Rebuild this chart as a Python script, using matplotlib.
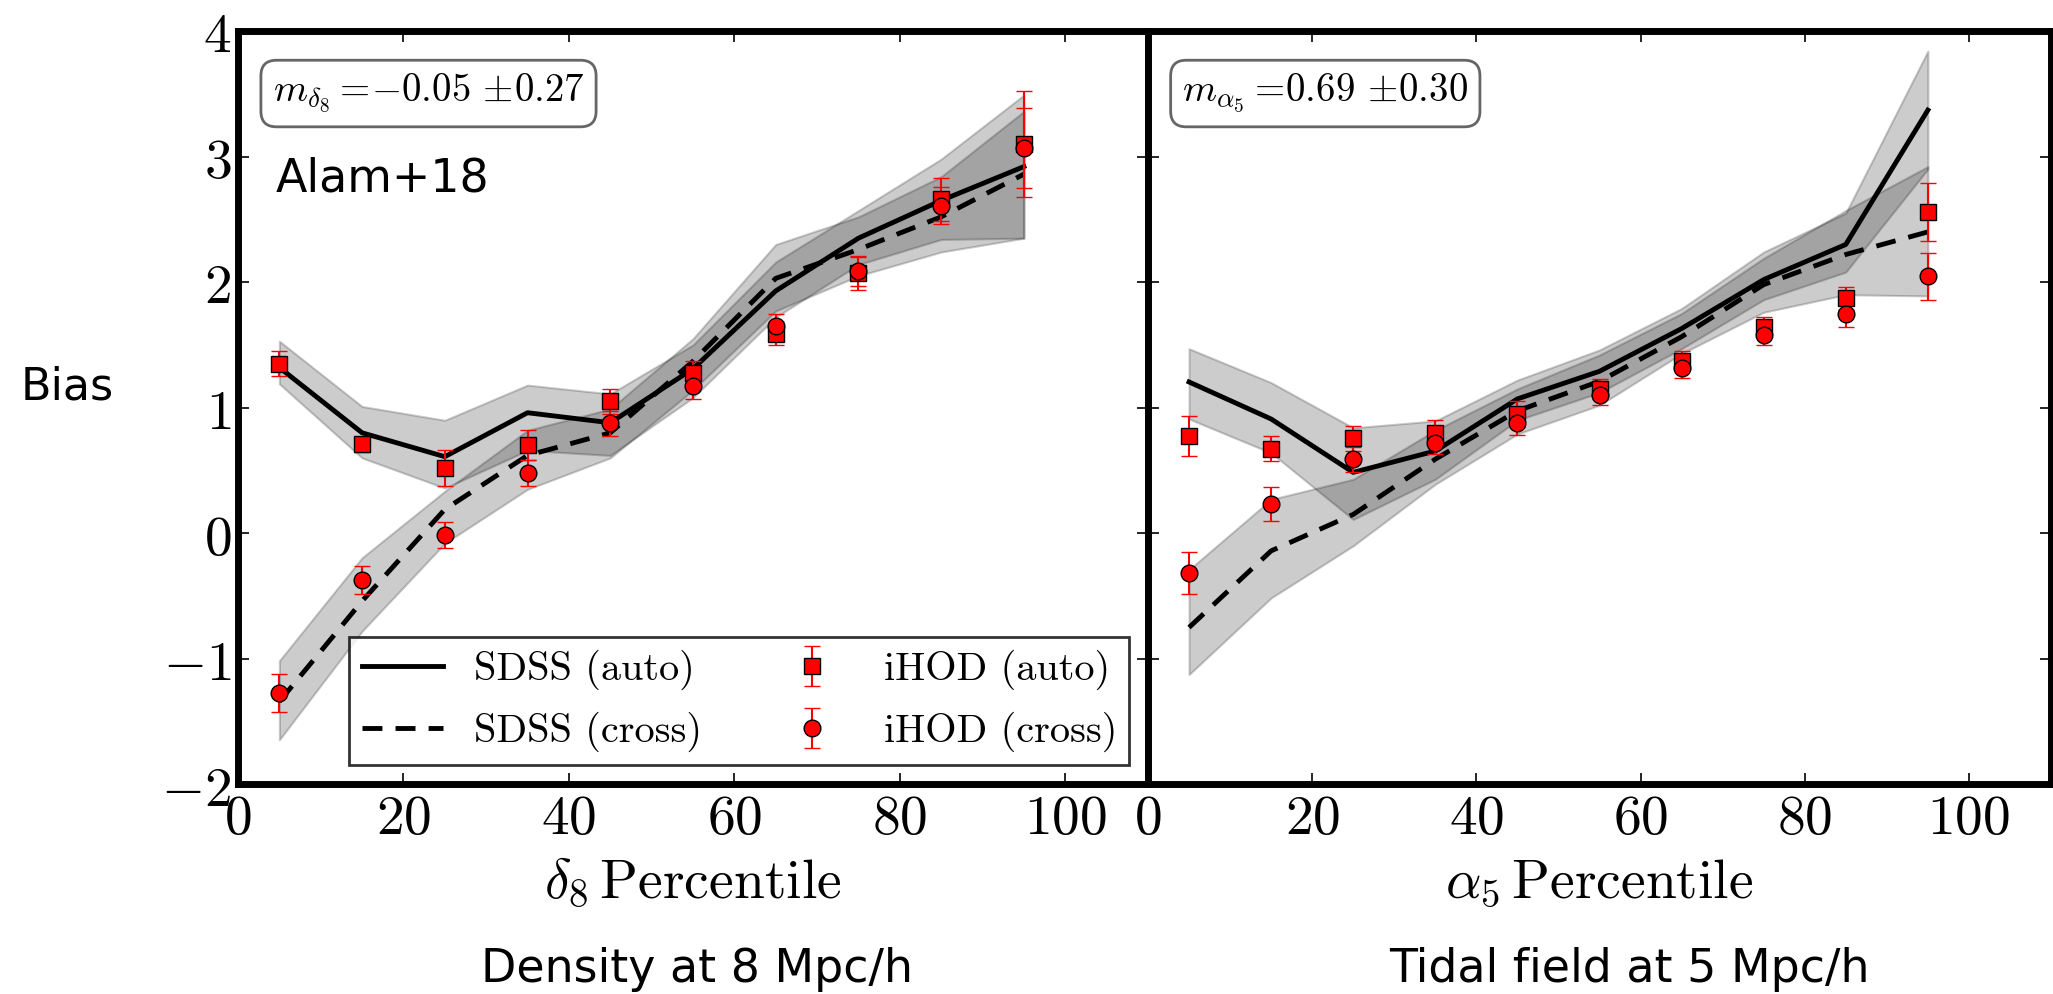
import matplotlib
matplotlib.use("Agg")
import matplotlib.pyplot as plt

plt.rcParams["mathtext.fontset"] = "cm"
plt.rcParams["font.family"] = "serif"
plt.rcParams["font.serif"] = ["DejaVu Serif"]

# percentile bins
pct = [5, 15, 25, 35, 45, 55, 65, 75, 85, 95]

# ---- delta_8 panel ----
sdss_auto_d8 = [1.32, 0.80, 0.61, 0.96, 0.88, 1.31, 1.93, 2.35, 2.65, 2.92]
sdss_auto_d8_lo = [1.19, 0.60, 0.36, 0.66, 0.62, 1.08, 1.72, 2.14, 2.34, 2.35]
sdss_auto_d8_hi = [1.53, 1.01, 0.90, 1.18, 1.11, 1.50, 2.16, 2.57, 2.98, 3.49]
sdss_cross_d8 = [-1.34, -0.54, 0.19, 0.62, 0.80, 1.37, 2.03, 2.26, 2.52, 2.86]
sdss_cross_d8_lo = [-1.645, -0.78, -0.08, 0.35, 0.60, 1.14, 1.77, 2.05, 2.24, 2.35]
sdss_cross_d8_hi = [-1.015, -0.195, 0.335, 0.82, 0.99, 1.55, 2.30, 2.52, 2.84, 3.36]
ihod_auto_d8 = [1.35, 0.71, 0.52, 0.70, 1.05, 1.28, 1.59, 2.07, 2.66, 3.10]
ihod_auto_d8_err = [0.10, 0.06, 0.145, 0.12, 0.10, 0.09, 0.09, 0.13, 0.17, 0.42]
ihod_cross_d8 = [-1.27, -0.37, -0.015, 0.48, 0.875, 1.17, 1.65, 2.09, 2.61, 3.07]
ihod_cross_d8_err = [0.15, 0.11, 0.105, 0.10, 0.10, 0.10, 0.10, 0.12, 0.15, 0.32]

# ---- alpha_5 panel ----
sdss_auto_a5 = [1.205, 0.91, 0.485, 0.655, 1.07, 1.29, 1.63, 2.02, 2.30, 3.37]
sdss_auto_a5_lo = [0.91, 0.64, 0.11, 0.43, 0.90, 1.12, 1.47, 1.86, 2.08, 2.90]
sdss_auto_a5_hi = [1.47, 1.20, 0.84, 0.895, 1.22, 1.46, 1.79, 2.24, 2.55, 3.84]
sdss_cross_a5 = [-0.75, -0.14, 0.15, 0.59, 0.975, 1.21, 1.565, 1.98, 2.22, 2.40]
sdss_cross_a5_lo = [-1.125, -0.515, -0.10, 0.39, 0.79, 1.02, 1.43, 1.76, 1.90, 1.89]
sdss_cross_a5_hi = [-0.29, 0.27, 0.43, 0.82, 1.15, 1.42, 1.75, 2.19, 2.57, 2.92]
ihod_auto_a5 = [0.775, 0.675, 0.755, 0.80, 0.95, 1.15, 1.37, 1.64, 1.87, 2.56]
ihod_auto_a5_err = [0.16, 0.10, 0.10, 0.10, 0.10, 0.08, 0.08, 0.08, 0.09, 0.23]
ihod_cross_a5 = [-0.315, 0.23, 0.59, 0.72, 0.875, 1.10, 1.32, 1.58, 1.75, 2.045]
ihod_cross_a5_err = [0.165, 0.135, 0.10, 0.09, 0.09, 0.08, 0.08, 0.08, 0.11, 0.19]

xticks = [0, 20, 40, 60, 80, 100]
yticks = [-2, -1, 0, 1, 2, 3, 4]

panels = [
    dict(auto=sdss_auto_d8, auto_lo=sdss_auto_d8_lo, auto_hi=sdss_auto_d8_hi,
         cross=sdss_cross_d8, cross_lo=sdss_cross_d8_lo, cross_hi=sdss_cross_d8_hi,
         hauto=ihod_auto_d8, hauto_err=ihod_auto_d8_err,
         hcross=ihod_cross_d8, hcross_err=ihod_cross_d8_err,
         xlabel=r"$\delta_8\,\mathrm{Percentile}$",
         slope=r"$m_{\delta_8}=\!{-0.05}\,\pm\!0.27$",
         caption="Density at 8 Mpc/h", cap_x=697),
    dict(auto=sdss_auto_a5, auto_lo=sdss_auto_a5_lo, auto_hi=sdss_auto_a5_hi,
         cross=sdss_cross_a5, cross_lo=sdss_cross_a5_lo, cross_hi=sdss_cross_a5_hi,
         hauto=ihod_auto_a5, hauto_err=ihod_auto_a5_err,
         hcross=ihod_cross_a5, hcross_err=ihod_cross_a5_err,
         xlabel=r"$\alpha_5\,\mathrm{Percentile}$",
         slope=r"$m_{\alpha_5}=\!0.69\,\pm\!0.30$",
         caption="Tidal field at 5 Mpc/h", cap_x=1629),
]

W, H = 2053, 994
fig = plt.figure(figsize=(W / 100, H / 100), dpi=100)
ax_bottom = 1 - 784.4 / H
ax_height = (784.4 - 31.0) / H
axes = [fig.add_axes([238 / W, ax_bottom, 910 / W, ax_height]),
        fig.add_axes([1148 / W, ax_bottom, 903 / W, ax_height])]

dash = (0, (4.1, 2.7))
sans = "DejaVu Sans"

for i, (ax, p) in enumerate(zip(axes, panels)):
    ax.fill_between(pct, p["auto_lo"], p["auto_hi"], color="k", alpha=0.2, lw=1.5)
    ax.fill_between(pct, p["cross_lo"], p["cross_hi"], color="k", alpha=0.2, lw=1.5)
    l1, = ax.plot(pct, p["auto"], color="k", lw=3.5, label="SDSS (auto)")
    l2, = ax.plot(pct, p["cross"], color="k", lw=3.5, linestyle=dash,
                  label="SDSS (cross)")
    e1 = ax.errorbar(pct, p["hauto"], yerr=p["hauto_err"], fmt="s", color="red",
                     mfc="red", mec="k", mew=1.0, ms=12, elinewidth=1.5,
                     capsize=6, capthick=1.5, ecolor="red", label="iHOD (auto)")
    e2 = ax.errorbar(pct, p["hcross"], yerr=p["hcross_err"], fmt="o", color="red",
                     mfc="red", mec="k", mew=1.0, ms=12, elinewidth=1.5,
                     capsize=6, capthick=1.5, ecolor="red", label="iHOD (cross)")

    ax.set_xlim(0, 110)
    ax.set_ylim(-2, 4)
    ax.set_xticks(xticks)
    ax.set_xticklabels([f"${t}$" for t in xticks])
    ax.set_yticks(yticks)
    if i == 0:
        ax.set_yticklabels([f"${t}$" for t in yticks])
    else:
        ax.set_yticklabels([])
    ax.tick_params(direction="in", top=True, right=True, length=8, width=1.2,
                   labelsize=40, pad=5)
    for s in ax.spines.values():
        s.set_linewidth(5)
    ax.set_xlabel(p["xlabel"], fontsize=40, labelpad=6)

    ax.text(0.038, 0.917, p["slope"], transform=ax.transAxes, fontsize=28,
            ha="left", va="center",
            bbox=dict(boxstyle="round,pad=0.3,rounding_size=0.4", fc="white",
                      ec="0.4", lw=2))

    fig.text(p["cap_x"] / W, 1 - 981.7 / H, p["caption"], family=sans,
             fontsize=33, ha="center", va="baseline")

    if i == 0:
        fig.text(276 / W, 1 - 192 / H, "Alam+18", family=sans,
                 fontsize=33, ha="left", va="baseline")
        leg = ax.legend(handles=[l1, l2, e1, e2], ncol=2, loc="lower left",
                        bbox_to_anchor=(0.122, 0.026), borderaxespad=0,
                        prop={"family": "cmr10", "size": 29},
                        frameon=True, fancybox=False,
                        edgecolor="k", handlelength=2.03, columnspacing=1.7,
                        handletextpad=0.77, labelspacing=0.55, borderpad=0.31,
                        numpoints=1)
        leg.get_frame().set_linewidth(2)

fig.text(67.5 / W, 1 - 399.3 / H, "Bias", family=sans, fontsize=32,
         ha="center", va="baseline")

fig.savefig("out.png", dpi=100)
